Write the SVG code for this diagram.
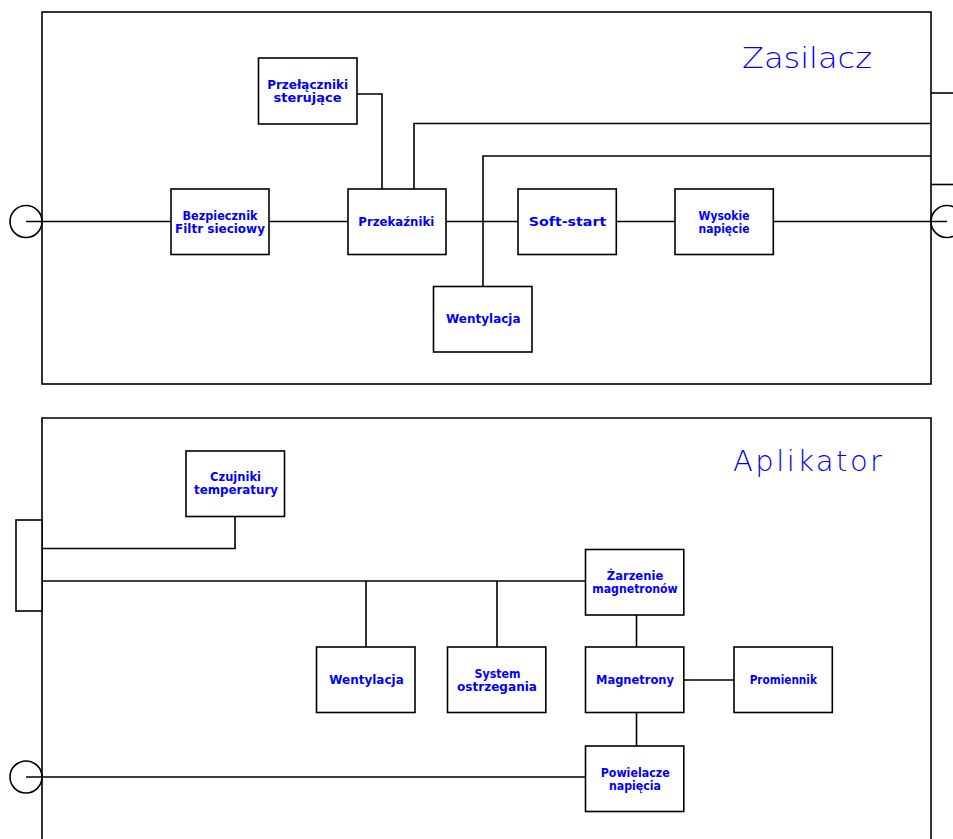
<svg xmlns="http://www.w3.org/2000/svg" width="953" height="839" viewBox="0 0 953 839">
<style>
.frame{fill:none;stroke:#000;stroke-width:1.6}
.box{fill:#fff;stroke:#000;stroke-width:1.6}
.wire{fill:none;stroke:#000;stroke-width:1.6}
.lbl{font-family:"DejaVu Sans",sans-serif;font-weight:bold;font-size:11.5px;fill:#0000ff;text-anchor:middle}
.title{font-family:"DejaVu Sans",sans-serif;font-weight:200;font-size:29px;fill:#0000ff}
</style>
<rect width="953" height="839" fill="#fff"/>
<g id="frame-zasilacz">
<rect class="frame" x="42" y="12" width="889" height="372"/>
<text class="title" x="742" y="68" textLength="130" lengthAdjust="spacingAndGlyphs">Zasilacz</text>
</g>
<g id="frame-aplikator">
<path class="frame" d="M42,839 V418 H931 V839"/>
<text class="title" x="733" y="471" textLength="149" lengthAdjust="spacing">Aplikator</text>
</g>
<g id="connectors">
<path class="wire" d="M26,221.5 H171"/>
<path class="wire" d="M269,221.5 H348"/>
<path class="wire" d="M446,221.5 H518"/>
<path class="wire" d="M616,221.5 H675"/>
<path class="wire" d="M773,221.5 H947"/>
<path class="wire" d="M357,94 H382 V189"/>
<path class="wire" d="M414,189 V123.5 H931"/>
<path class="wire" d="M483,287 V156 H931"/>
<path class="wire" d="M931,93 H953"/>
<path class="wire" d="M931,184.5 H953"/>
<path class="wire" d="M235,516 V548.5 H42"/>
<path class="wire" d="M42,581 H585"/>
<path class="wire" d="M366,581 V647"/>
<path class="wire" d="M497,581 V647"/>
<path class="wire" d="M636.5,615 V647"/>
<path class="wire" d="M683.5,680 H734"/>
<path class="wire" d="M636.5,712 V746"/>
<path class="wire" d="M26,777 H585"/>
</g>
<g id="port-left-top"><circle class="wire" cx="26" cy="221.5" r="16"/></g>
<g id="port-right-top"><circle class="wire" cx="947" cy="221.5" r="16"/></g>
<g id="port-left-bottom"><circle class="wire" cx="26" cy="777" r="16"/></g>
<g id="connector-block"><rect class="box" x="16" y="520" width="26" height="91"/></g>
<g id="n-bezpiecznik">
<rect class="box" x="171" y="189" width="98" height="65.5"/>
<text class="lbl" x="220" y="219.5" textLength="75" lengthAdjust="spacingAndGlyphs">Bezpiecznik</text>
<text class="lbl" x="220" y="232.5" textLength="90" lengthAdjust="spacingAndGlyphs">Filtr sieciowy</text>
</g>
<g id="n-przelaczniki">
<rect class="box" x="258.5" y="58" width="98.5" height="66"/>
<text class="lbl" x="307.7" y="89" textLength="81" lengthAdjust="spacingAndGlyphs">Przełączniki</text>
<text class="lbl" x="307.5" y="102" textLength="68" lengthAdjust="spacingAndGlyphs">sterujące</text>
</g>
<g id="n-przekazniki">
<rect class="box" x="348" y="189" width="98" height="65.5"/>
<text class="lbl" x="396.3" y="226" textLength="76" lengthAdjust="spacingAndGlyphs">Przekaźniki</text>
</g>
<g id="n-softstart">
<rect class="box" x="518" y="189" width="98.3" height="65.5"/>
<text class="lbl" x="567.5" y="226" textLength="77.5" lengthAdjust="spacingAndGlyphs">Soft-start</text>
</g>
<g id="n-wysokie">
<rect class="box" x="675" y="189" width="98.3" height="65.5"/>
<text class="lbl" x="724" y="219.5" textLength="51" lengthAdjust="spacingAndGlyphs">Wysokie</text>
<text class="lbl" x="724" y="232.5" textLength="51" lengthAdjust="spacingAndGlyphs">napięcie</text>
</g>
<g id="n-wentylacja-z">
<rect class="box" x="433.5" y="286.5" width="98.5" height="65.5"/>
<text class="lbl" x="483.3" y="323" textLength="74.5" lengthAdjust="spacingAndGlyphs">Wentylacja</text>
</g>
<g id="n-czujniki">
<rect class="box" x="186" y="451" width="98.5" height="65.5"/>
<text class="lbl" x="235.5" y="481" textLength="51" lengthAdjust="spacingAndGlyphs">Czujniki</text>
<text class="lbl" x="236" y="494" textLength="84" lengthAdjust="spacingAndGlyphs">temperatury</text>
</g>
<g id="n-wentylacja-a">
<rect class="box" x="316.5" y="647" width="98.5" height="65.5"/>
<text class="lbl" x="366.5" y="684" textLength="74.5" lengthAdjust="spacingAndGlyphs">Wentylacja</text>
</g>
<g id="n-system">
<rect class="box" x="447.5" y="647" width="98.3" height="65.5"/>
<text class="lbl" x="497.5" y="677.5" textLength="46" lengthAdjust="spacingAndGlyphs">System</text>
<text class="lbl" x="497" y="690.5" textLength="80" lengthAdjust="spacingAndGlyphs">ostrzegania</text>
</g>
<g id="n-zarzenie">
<rect class="box" x="585.5" y="549.5" width="98.3" height="65.5"/>
<text class="lbl" x="635" y="580" textLength="56.5" lengthAdjust="spacingAndGlyphs">Żarzenie</text>
<text class="lbl" x="635" y="593" textLength="85.5" lengthAdjust="spacingAndGlyphs">magnetronów</text>
</g>
<g id="n-magnetrony">
<rect class="box" x="585.5" y="647" width="98.3" height="65.5"/>
<text class="lbl" x="635" y="684" textLength="78" lengthAdjust="spacingAndGlyphs">Magnetrony</text>
</g>
<g id="n-promiennik">
<rect class="box" x="734" y="647" width="98.3" height="65.5"/>
<text class="lbl" x="783.3" y="684" textLength="67.3" lengthAdjust="spacingAndGlyphs">Promiennik</text>
</g>
<g id="n-powielacze">
<rect class="box" x="585.5" y="746" width="98.3" height="65.5"/>
<text class="lbl" x="635.2" y="776.5" textLength="69" lengthAdjust="spacingAndGlyphs">Powielacze</text>
<text class="lbl" x="635" y="789.5" textLength="52" lengthAdjust="spacingAndGlyphs">napięcia</text>
</g>
</svg>
